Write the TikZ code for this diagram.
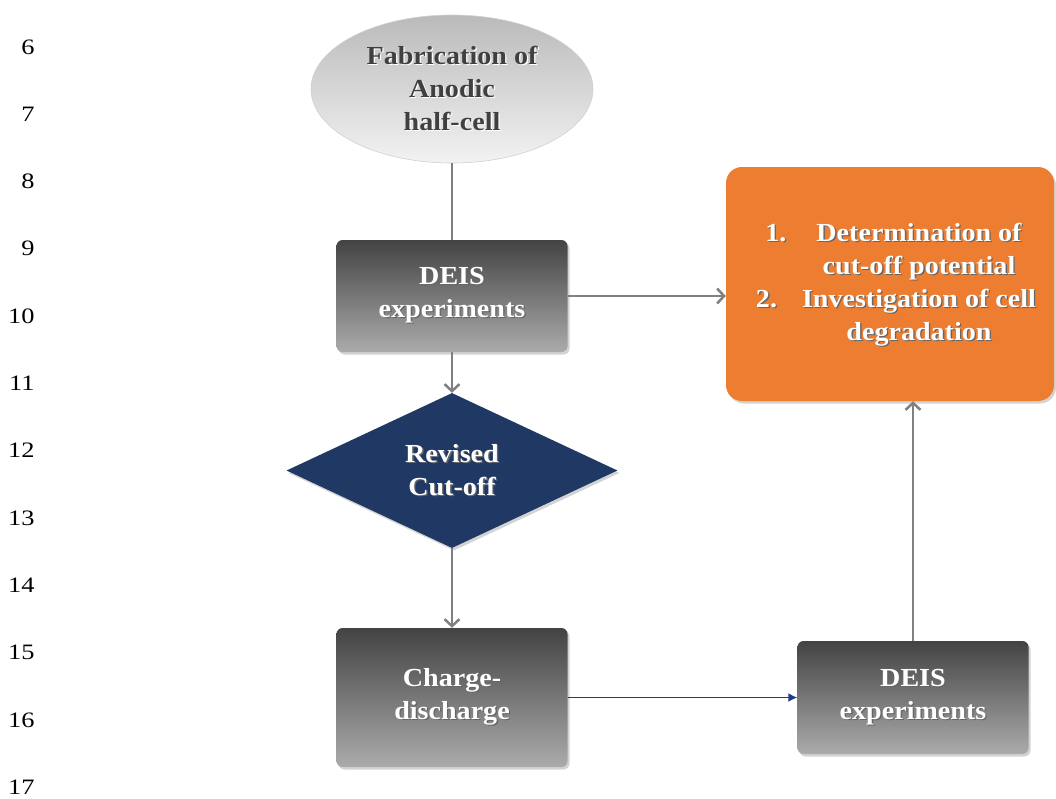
\documentclass[tikz,border=0pt]{standalone}
\usepackage{fontspec}
\setmainfont{Liberation Serif}
\newfontfamily\diagfont[FakeStretch=1.08]{Liberation Serif}
\newfontfamily\numfont[FakeStretch=1.2]{Liberation Serif}
\usetikzlibrary{shapes.geometric,arrows.meta,shadows}
\definecolor{orangeA}{HTML}{ED7D31}
\definecolor{navyA}{HTML}{1F3864}
\definecolor{blueA}{HTML}{1F3C88}
\definecolor{arrowgrey}{HTML}{808080}
\definecolor{boxtop}{HTML}{434343}
\definecolor{boxmid}{HTML}{5E5E5E}
\definecolor{boxbot}{HTML}{ABABAB}
\newcommand\shd[2][black!60]{\rlap{\kern1.3pt\raisebox{-1.3pt}{\textcolor{#1}{#2}}}#2}
\begin{document}
\begin{tikzpicture}[x=1pt,y=-1pt,
  txt/.style={font=\diagfont\fontsize{26}{33}\selectfont\bfseries, align=center},
  shad/.style={drop shadow={opacity=0.35, shadow xshift=2pt, shadow yshift=-2.5pt}},
  greybox/.style={rectangle, rounded corners=6pt, minimum width=231pt, draw=none,
    top color=boxtop, middle color=boxmid, bottom color=boxbot, shad, txt, text=white, inner sep=0pt},
  startnode/.style={ellipse, minimum width=282pt, minimum height=148pt, inner sep=0pt,
    top color=black!27, bottom color=black!5, draw=black!18, line width=0.6pt, txt, text=black!75},
  decisionnode/.style={diamond, minimum width=331pt, minimum height=155pt, inner sep=0pt,
    fill=navyA, shad, txt, text=white},
  resultnode/.style={rectangle, rounded corners=16pt, minimum width=328pt, minimum height=234pt,
    fill=orangeA, shad, txt, text=white, inner sep=0pt},
  plainline/.style={draw=arrowgrey, line width=1.5pt},
  greyarrow/.style={draw=arrowgrey, line width=2.5pt, -{Straight Barb[length=7pt,width=15pt,line width=2.5pt]}},
  bluearrow/.style={draw=blueA, line width=1.5pt, -{Latex[length=9pt,width=9pt]}},
  linenum/.style={font=\numfont\fontsize{22}{26}\selectfont, anchor=base east}
]
\useasboundingbox (0,0) rectangle (1056,798);

% line numbers
\foreach \n [count=\i from 0] in {6,...,17}
  \node[linenum] (ln\n) at (38,{54+67.3*\i}) {\n};

% nodes
\node[startnode] (fab) at (452,89) {\shd[white!60]{Fabrication of}\\\shd[white!60]{Anodic}\\\shd[white!60]{half-cell}};
\node[greybox, minimum height=112pt] (deis1) at (452,296) {\shd{DEIS}\\\shd{experiments}};
\node[decisionnode] (rev) at (452,470.5) {\shd{Revised}\\\shd{Cut-off}};
\node[greybox, minimum height=139pt] (charge) at (452,697.5) {\shd{Charge-}\\\shd{discharge}};
\node[greybox, minimum height=113pt] (deis2) at (913,697.5) {\shd{DEIS}\\\shd{experiments}};
\node[resultnode] (result) at (890,284) {%
  \begin{tabular}{@{\hspace{58pt}}c@{}}
  \llap{\shd{1.}\hspace{30pt}}\shd{Determination of}\\
  \shd{cut-off potential}\\
  \llap{\shd{2.}\hspace{25pt}}\shd{Investigation of cell}\\
  \shd{degradation}
  \end{tabular}};

% connectors
\draw[plainline] (fab.south) -- (deis1.north);
\draw[greyarrow] (deis1.east) -- (deis1.east -| result.west);
\draw[greyarrow] (deis1.south) -- (rev.north);
\draw[greyarrow] (rev.south) -- (charge.north);
\draw[bluearrow] (charge.east) -- (deis2.west);
\draw[greyarrow] (deis2.north) -- (deis2.north |- result.south);
\end{tikzpicture}
\end{document}
